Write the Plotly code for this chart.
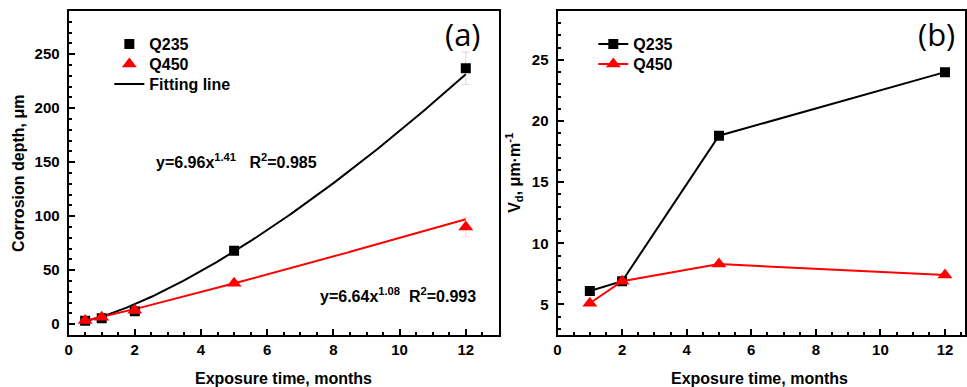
import numpy as np
import plotly.graph_objects as go

# ---------------- data ----------------
months_a = [0.5, 1, 2, 5, 12]
depth_q235 = [3.3, 5.5, 12, 68, 237]
depth_q450 = [3.5, 6.5, 13, 38, 90]
err_q235 = [1, 1.5, 3, 3, 15]
err_q450 = [1, 1.5, 3, 2, 9]

# fitted power laws y = a * x^b (coefficients as printed on the chart)
fit_q235 = (6.96, 1.41)
fit_q450 = (6.64, 1.08)
fit_range = (0.5, 12)

months_b = [1, 2, 5, 12]
vd_q235 = [6.1, 6.9, 18.8, 24.0]
vd_q450 = [5.1, 6.9, 8.3, 7.4]

W, H = 967, 387
FONT = "Liberation Sans, Arial, sans-serif"
BLACK = "#000000"
RED = "#ff0000"

fx = np.linspace(fit_range[0], fit_range[1], 200)

fig = go.Figure()

# ---- panel (a) ----
fig.add_trace(go.Scatter(
    x=fx, y=fit_q235[0] * fx ** fit_q235[1], mode="lines",
    line=dict(color=BLACK, width=2), name="Fitting line",
    xaxis="x", yaxis="y", legend="legend4"))
fig.add_trace(go.Scatter(
    x=fx, y=fit_q450[0] * fx ** fit_q450[1], mode="lines",
    line=dict(color=RED, width=2), showlegend=False,
    xaxis="x", yaxis="y"))
fig.add_trace(go.Scatter(
    x=months_a, y=depth_q235, mode="markers", name="Q235",
    marker=dict(symbol="square", size=10, color=BLACK),
    error_y=dict(type="data", array=err_q235, color="rgba(150,150,150,0.35)",
                 thickness=1, width=4),
    xaxis="x", yaxis="y", legend="legend"))
fig.add_trace(go.Scatter(
    x=months_a, y=depth_q450, mode="markers", name="Q450",
    marker=dict(symbol="triangle-up", size=13, color=RED),
    error_y=dict(type="data", array=err_q450, color="rgba(255,150,150,0.4)",
                 thickness=1, width=4),
    xaxis="x", yaxis="y", legend="legend3"))

# ---- panel (b) ----
fig.add_trace(go.Scatter(
    x=months_b, y=vd_q235, mode="lines+markers", name="Q235",
    line=dict(color=BLACK, width=2),
    marker=dict(symbol="square", size=10, color=BLACK),
    xaxis="x2", yaxis="y2", legend="legend2"))
fig.add_trace(go.Scatter(
    x=months_b, y=vd_q450, mode="lines+markers", name="Q450",
    line=dict(color=RED, width=2),
    marker=dict(symbol="triangle-up", size=13, color=RED),
    xaxis="x2", yaxis="y2", legend="legend5"))

tickfont = dict(family=FONT, size=15, color=BLACK, weight=700)
common = dict(
    showline=True, linecolor=BLACK, linewidth=2, mirror=True,
    ticks="inside", ticklen=6, tickwidth=2, tickcolor=BLACK,
    showgrid=False, zeroline=False, tickfont=tickfont,
    tickprefix="<b>", ticksuffix="</b>",
)

L, R, T, B = 0, 0, 11, 52
ax_a = (65 / W, 498 / W)
ax_b = (557 / W, 1.0)


def px(xp):
    return xp / W


def py(yp):
    return (H - B - yp) / (H - T - B)


legfont = dict(family=FONT, size=16, color=BLACK, weight=700)


def leg(xp, ytop):
    return dict(x=px(xp), y=py(ytop), xanchor="left", yanchor="top",
                bgcolor="rgba(0,0,0,0)", font=legfont)


fig.update_layout(
    width=W, height=H,
    margin=dict(l=L, r=R, t=T, b=B),
    paper_bgcolor="white", plot_bgcolor="white",
    font=dict(family=FONT, size=15, color=BLACK, weight=700),
    xaxis=dict(domain=list(ax_a), range=[0, 13], dtick=2, tick0=0,
               minor=dict(dtick=0.5, ticks="inside", ticklen=3, tickwidth=1.5, tickcolor=BLACK),
               anchor="y", **common),
    yaxis=dict(range=[-10, 290], dtick=50, tick0=0,
               minor=dict(dtick=10, ticks="inside", ticklen=3, tickwidth=1.5, tickcolor=BLACK),
               anchor="x", ticklabelstandoff=4, **common),
    xaxis2=dict(domain=list(ax_b), range=[0, 12.62], dtick=2, tick0=0,
                minor=dict(dtick=0.5, ticks="inside", ticklen=3, tickwidth=1.5, tickcolor=BLACK),
                anchor="y2", **common),
    yaxis2=dict(range=[2.5, 29], dtick=5, tick0=0,
                minor=dict(dtick=1, ticks="inside", ticklen=3, tickwidth=1.5, tickcolor=BLACK),
                anchor="x2", ticklabelstandoff=4, **common),
    legend=leg(106, 27),
    legend3=leg(106, 47),
    legend4=leg(106, 67),
    legend2=leg(593, 27),
    legend5=leg(593, 47),
)

bold16 = dict(family=FONT, size=16, color=BLACK, weight=700)
annos = [
    # axis titles
    dict(x=px(281), y=py(378), text="Exposure time, months", font=bold16),
    dict(x=px(760), y=py(378), text="Exposure time, months", font=bold16),
    dict(x=px(14), y=py(173), text="Corrosion depth, μm", textangle=-90, font=bold16),
    dict(x=px(513), y=py(173), text="V<sub>d</sub>, μm·m<sup>-1</sup>", textangle=-90, font=bold16),
    # fit equations
    dict(x=px(151), y=py(161), xanchor="left",
         text="y=6.96x<sup>1.41</sup>&nbsp;&nbsp;&nbsp;R<sup>2</sup>=0.985", font=bold16),
    dict(x=px(316), y=py(295), xanchor="left",
         text="y=6.64x<sup>1.08</sup>&nbsp;&nbsp;R<sup>2</sup>=0.993", font=bold16),
    # panel labels
    dict(x=px(462), y=py(34), text="(a)",
         font=dict(family="Open Sans, sans-serif", size=31, color=BLACK, weight=400)),
    dict(x=px(938), y=py(34), text="(b)",
         font=dict(family="Open Sans, sans-serif", size=31, color=BLACK, weight=400)),
]
for a in annos:
    a.setdefault("xanchor", "center")
    a.setdefault("yanchor", "middle")
    fig.add_annotation(xref="paper", yref="paper", showarrow=False, **a)

fig.write_html("out.html")
